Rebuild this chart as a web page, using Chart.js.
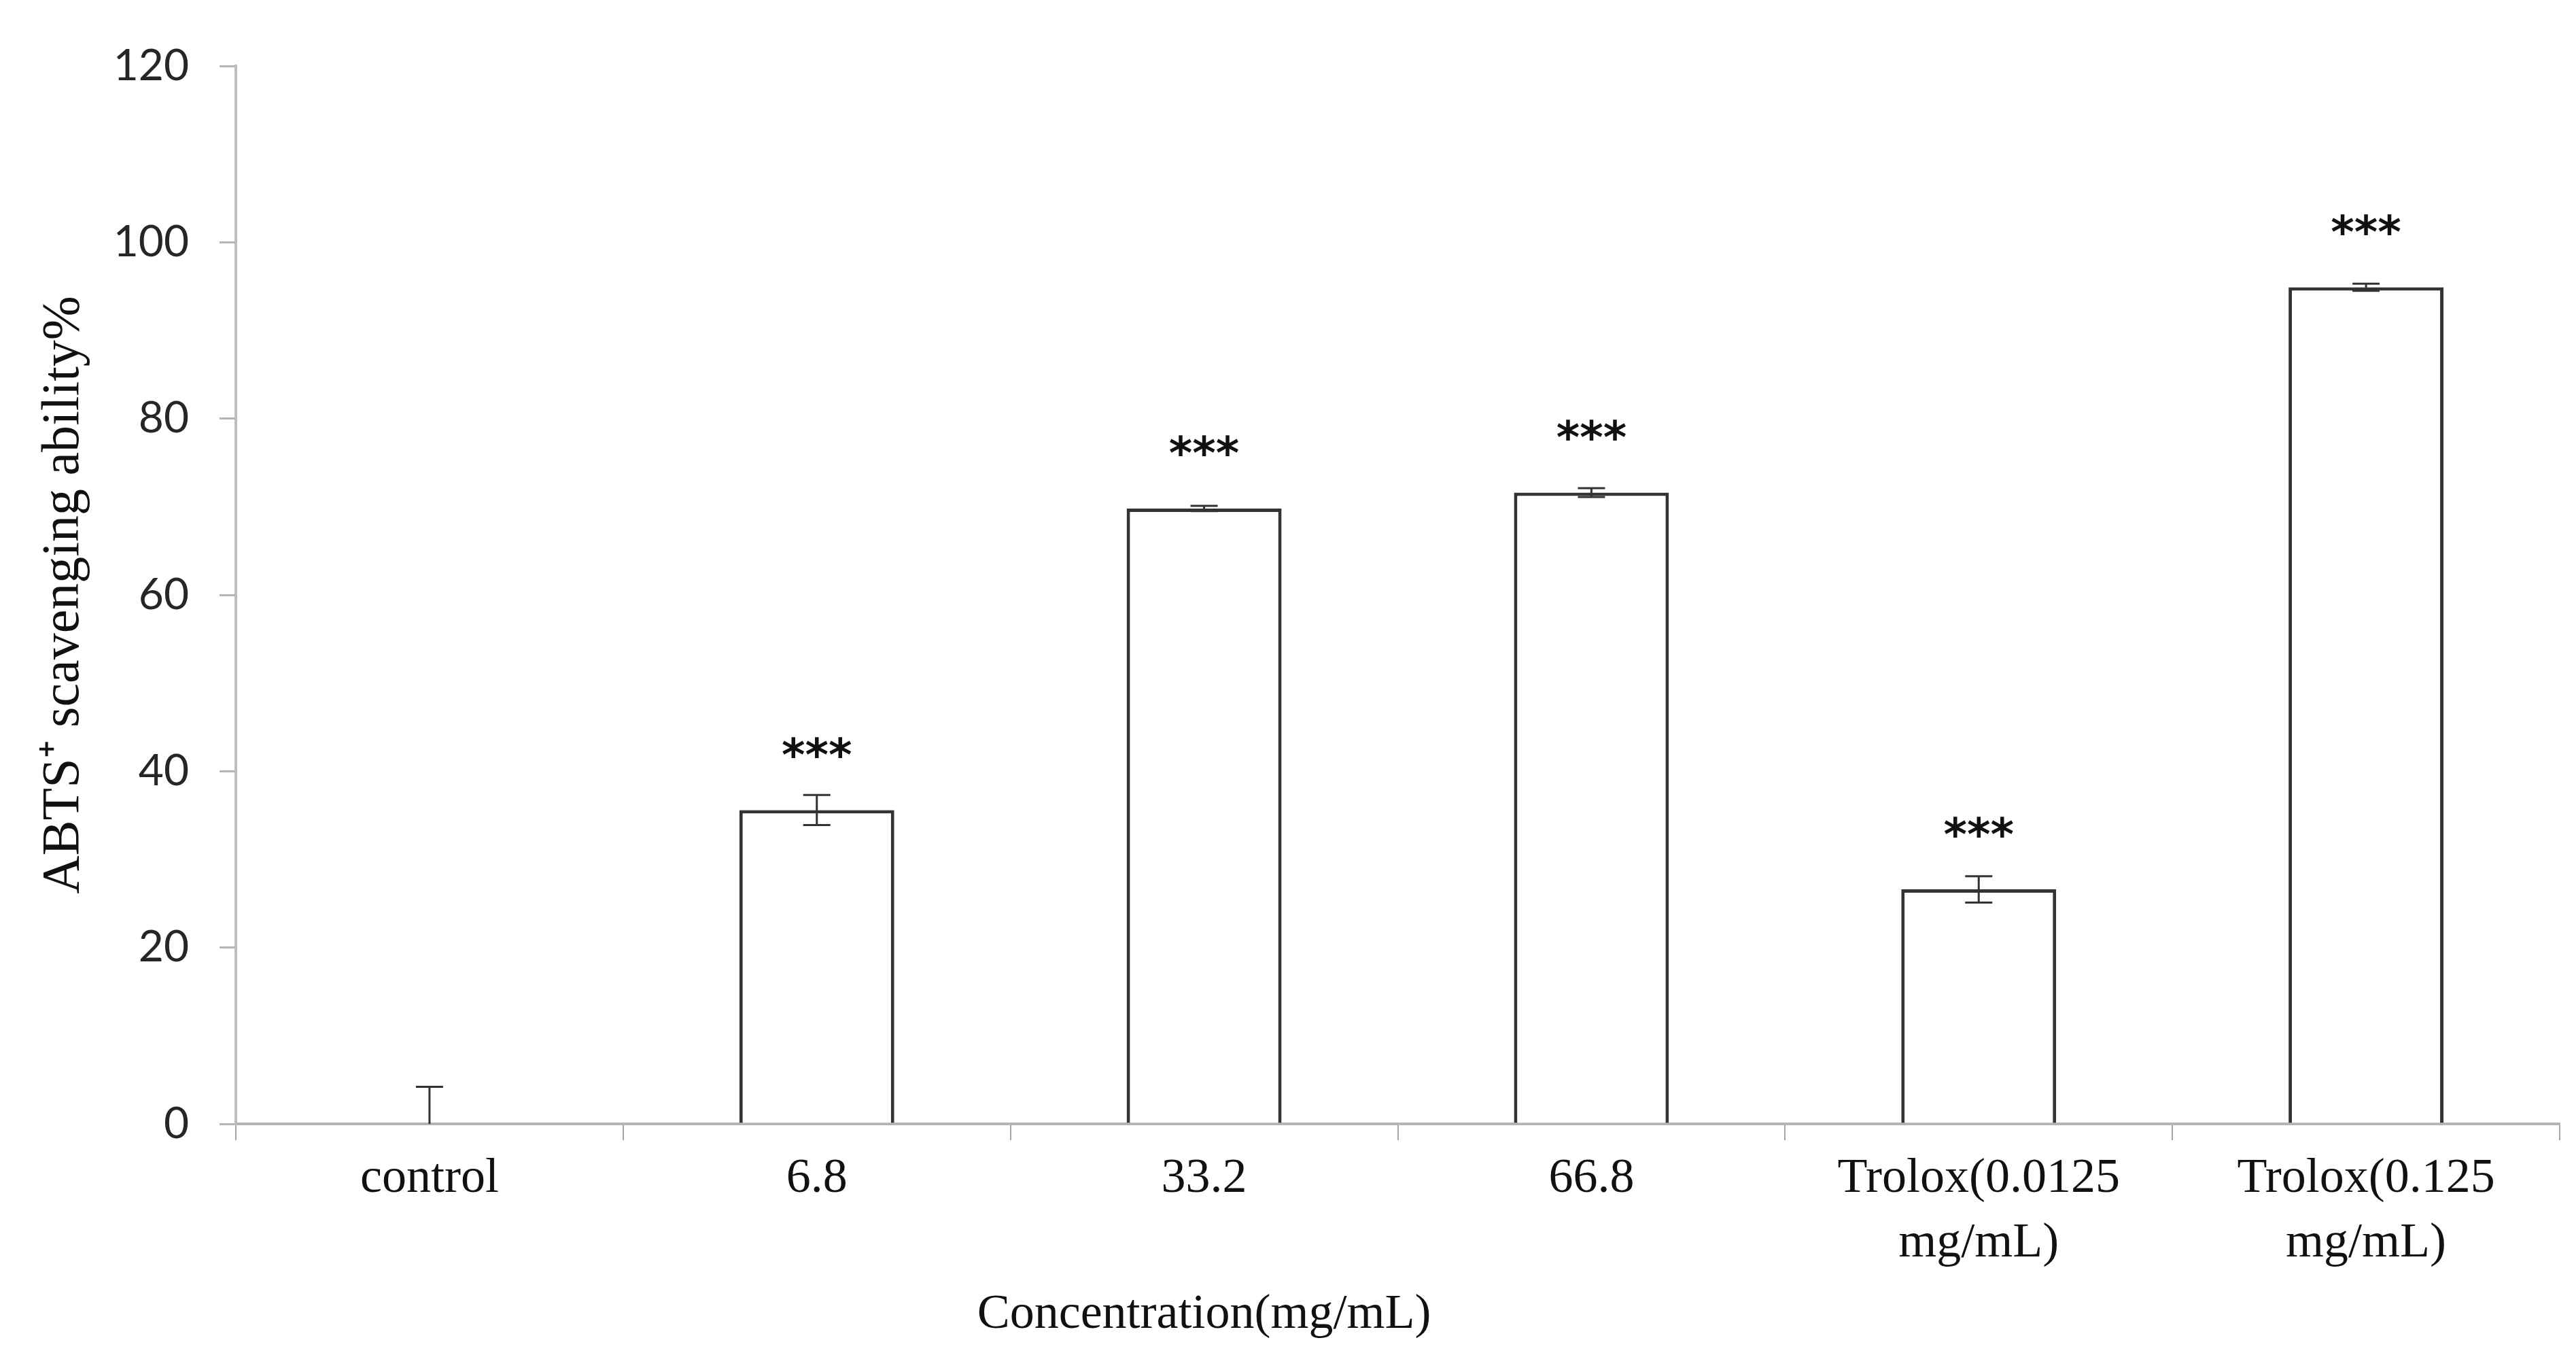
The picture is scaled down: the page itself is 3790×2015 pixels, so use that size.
<!DOCTYPE html>
<html>
<head>
<meta charset="utf-8">
<title>ABTS+ scavenging ability</title>
<script src="https://cdn.jsdelivr.net/npm/chart.js@4.4.1/dist/chart.umd.min.js"></script>
<style>
    html, body { margin: 0; padding: 0; background: #ffffff; }
    canvas { display: block; }
</style>
</head>
<body>
<canvas id="abtsChart" width="3790" height="2015"></canvas>
<script>
// Values
const categories = ['control', '6.8', '33.2', '66.8', ['Trolox(0.0125', 'mg/mL)'], ['Trolox(0.125', 'mg/mL)']];
const scavenging = [0, 35.6, 69.8, 71.6, 26.6, 94.9];
const errors = [4.2, 1.7, 0.3, 0.5, 1.5, 0.4];
const significance = ['', '***', '***', '***', '***', '***'];
const yTicks = [0, 20, 40, 60, 80, 100, 120];
const xTitle = 'Concentration(mg/mL)';
const yTitle = 'ABTS\u207A scavenging ability%';

const serif = '"Liberation Serif", "Times New Roman", serif';

// Error bars with caps, drawn through the scales
const errorBarPlugin = {
    id: 'errorBars',
    afterDatasetsDraw(chart) {
        const ctx = chart.ctx;
        const yScale = chart.scales.y;
        const meta = chart.getDatasetMeta(0);
        const area = chart.chartArea;
        ctx.save();
        ctx.beginPath();
        ctx.rect(area.left, 0, area.right - area.left, area.bottom);
        ctx.clip();
        ctx.strokeStyle = '#333333';
        ctx.lineWidth = 3;
        meta.data.forEach((bar, i) => {
            const x = bar.x;
            const top = yScale.getPixelForValue(scavenging[i] + errors[i]);
            const bottom = yScale.getPixelForValue(scavenging[i] - errors[i]);
            const cap = 20;
            ctx.beginPath();
            ctx.moveTo(x, top);
            ctx.lineTo(x, bottom);
            ctx.moveTo(x - cap, top);
            ctx.lineTo(x + cap, top);
            ctx.moveTo(x - cap, bottom);
            ctx.lineTo(x + cap, bottom);
            ctx.stroke();
        });
        ctx.restore();
    }
};

// Significance stars above each bar
const starsPlugin = {
    id: 'stars',
    afterDatasetsDraw(chart) {
        const ctx = chart.ctx;
        const yScale = chart.scales.y;
        const meta = chart.getDatasetMeta(0);
        ctx.save();
        ctx.font = 'bold 66px "DejaVu Sans", sans-serif';
        ctx.fillStyle = '#111111';
        ctx.textAlign = 'center';
        ctx.textBaseline = 'alphabetic';
        meta.data.forEach((bar, i) => {
            if (!significance[i]) return;
            const m = ctx.measureText(significance[i]);
            const centerY = yScale.getPixelForValue(scavenging[i]) - 92;
            const y = centerY + (m.actualBoundingBoxAscent - m.actualBoundingBoxDescent) / 2;
            ctx.fillText(significance[i], bar.x, y);
        });
        ctx.restore();
    }
};

// X title sits under the third category in the original
const xTitlePlugin = {
    id: 'xTitle',
    afterDraw(chart) {
        const ctx = chart.ctx;
        const xScale = chart.scales.x;
        ctx.save();
        ctx.font = '72px ' + serif;
        ctx.fillStyle = '#111111';
        ctx.textAlign = 'center';
        ctx.textBaseline = 'middle';
        ctx.fillText(xTitle, xScale.getPixelForValue(2), chart.chartArea.bottom + 281);
        ctx.restore();
    }
};

new Chart(document.getElementById('abtsChart'), {
    type: 'bar',
    data: {
        labels: categories,
        datasets: [{
            data: scavenging,
            backgroundColor: '#ffffff',
            borderColor: '#333333',
            borderWidth: 5,
            barPercentage: 0.4,
            categoryPercentage: 1.0
        }]
    },
    options: {
        responsive: false,
        animation: false,
        devicePixelRatio: 1,
        layout: {
            padding: { top: 97, right: 24, bottom: 0, left: 0 }
        },
        plugins: {
            legend: { display: false },
            tooltip: { enabled: false }
        },
        scales: {
            x: {
                afterFit(scale) { scale.height = 362; },
                grid: {
                    offset: true,
                    drawOnChartArea: false,
                    drawTicks: true,
                    tickLength: 24,
                    color: '#a6a6a6',
                    lineWidth: 2
                },
                border: { color: '#b4b4b4', width: 4 },
                ticks: {
                    color: '#111111',
                    padding: 10,
                    maxRotation: 0,
                    autoSkip: false,
                    font: { family: serif, size: 72, lineHeight: 1.32 }
                }
            },
            y: {
                min: 0,
                max: 120,
                afterFit(scale) { scale.width = 347; },
                afterBuildTicks(scale) {
                    scale.ticks = yTicks.map(v => ({ value: v }));
                },
                grid: {
                    drawOnChartArea: false,
                    drawTicks: true,
                    tickLength: 24,
                    color: '#b4b4b4',
                    lineWidth: 3
                },
                border: { color: '#bdbdbd', width: 4 },
                ticks: {
                    color: '#262626',
                    padding: 45,
                    font: { family: 'Lato, "Open Sans", sans-serif', size: 64 }
                },
                title: {
                    display: true,
                    text: yTitle,
                    color: '#111111',
                    padding: { top: 48, bottom: 0 },
                    font: { family: serif, size: 78 }
                }
            }
        }
    },
    plugins: [errorBarPlugin, starsPlugin, xTitlePlugin]
});
</script>
</body>
</html>
